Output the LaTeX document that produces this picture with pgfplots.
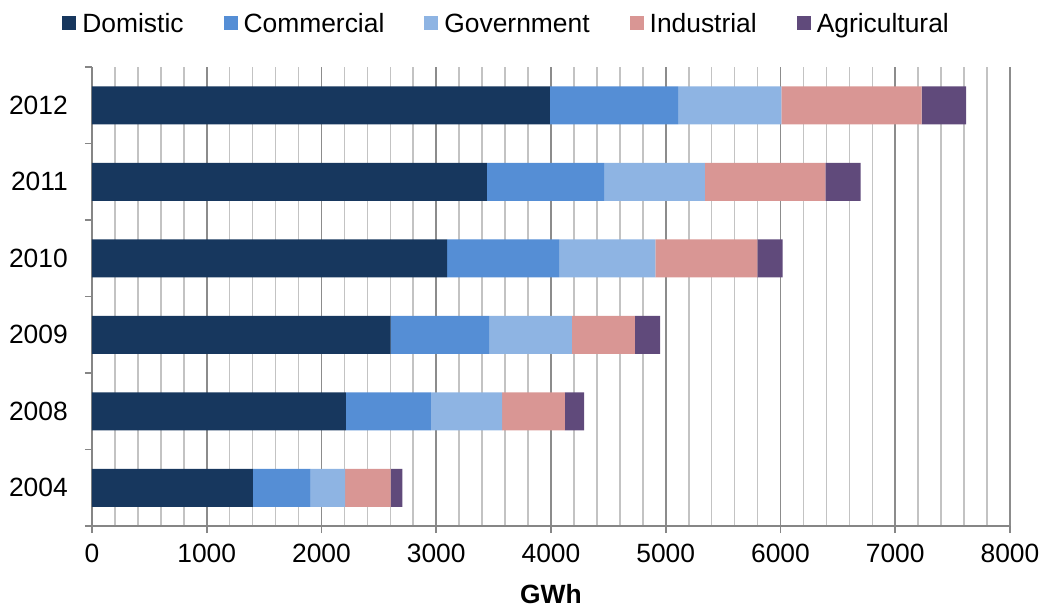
\documentclass[border=0pt]{standalone}
\usepackage{pgfplots}
\pgfplotsset{compat=1.18}
\usepackage{fontspec}
\setmainfont{Liberation Sans}
\definecolor{cDom}{HTML}{17375E}
\definecolor{cCom}{HTML}{558ED5}
\definecolor{cGov}{HTML}{8EB4E3}
\definecolor{cInd}{HTML}{D99694}
\definecolor{cAgr}{HTML}{604A7B}
\definecolor{majg}{HTML}{8C8C8C}
\definecolor{ming}{HTML}{C3C3C3}
\definecolor{axg}{HTML}{868686}
\begin{document}
\fontsize{13.2bp}{16bp}\selectfont
\begin{tikzpicture}
\begin{axis}[
  name=ax,
  scale only axis, width=459bp, height=229.5bp,
  xbar stacked, bar width=19bp,
  xmin=0, xmax=8000, ymin=-0.5, ymax=5.5,
  axis lines*=left,
  axis line style={draw=axg, line width=0.9bp},
  xtick={0,1000,...,8000},
  minor x tick num=4,
  xmajorgrids, xminorgrids,
  major grid style={draw=majg, line width=0.8bp},
  minor grid style={draw=ming, line width=0.8bp},
  scaled x ticks=false,
  /pgf/number format/assume math mode=true,
  x tick label style={/pgf/number format/1000 sep={}, yshift=-1bp},
  tick align=outside,
  major tick length=3.5bp,
  minor tick length=3.5bp,
  tick style={draw=axg, line width=0.9bp},
  minor x tick style={draw=none},
  ytick={0,1,2,3,4,5},
  yticklabels={2004,2008,2009,2010,2011,2012},
  major y tick style={draw=none},
  minor ytick={-0.5,0.5,1.5,2.5,3.5,4.5,5.5},
  y tick label style={xshift=-4bp},
  xlabel={\textbf{GWh}},
  xlabel style={yshift=-1.5bp},
  legend columns=5,
  legend style={at={(rel axis cs:-0.0327,1.092)}, anchor=west, draw=none,
    inner sep=0pt, fill=none,
    nodes={inner sep=0pt, anchor=base west},
    /tikz/every odd column/.append style={column sep=3bp},
    /tikz/every even column/.append style={column sep=20bp}},
  legend image code/.code={\path[#1,draw=none] (0bp,1.3bp) rectangle (7bp,8.3bp);},
]
\addplot[fill=cDom, draw=none] coordinates {(1403,0) (2213,1) (2603,2) (3094,3) (3442,4) (3990,5)};
\addplot[fill=cCom, draw=none] coordinates {(503,0) (741,1) (857,2) (976,3) (1020,4) (1117,5)};
\addplot[fill=cGov, draw=none] coordinates {(299,0) (619,1) (723,2) (839,3) (880,4) (900,5)};
\addplot[fill=cInd, draw=none] coordinates {(398,0) (549,1) (549,2) (889,3) (1049,4) (1223,5)};
\addplot[fill=cAgr, draw=none] coordinates {(101,0) (166,1) (218,2) (221,3) (307,4) (387,5)};
\legend{Domistic,Commercial,Government,Industrial,Agricultural}
\end{axis}
\pgfresetboundingbox
\path ([shift={(-46bp,-41bp)}]ax.south west) rectangle ([shift={(16.5bp,33.5bp)}]ax.north east);
\end{tikzpicture}
\end{document}
